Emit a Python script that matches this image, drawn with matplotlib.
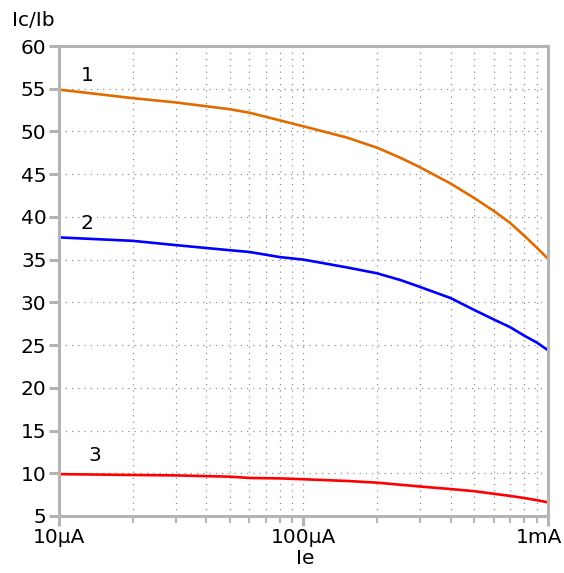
import numpy as np
import matplotlib
matplotlib.use("Agg")
import matplotlib.pyplot as plt
import matplotlib.transforms as mtransforms
from matplotlib.ticker import FixedLocator, NullFormatter

# ── data ──
ie_ua = [10, 20, 30, 50, 60, 80, 100, 150, 200, 250, 300, 400, 500, 600, 700, 800, 900, 1000]
beta_1 = [54.9, 53.9, 53.4, 52.6, 52.2, 51.3, 50.6, 49.3, 48.1, 46.9, 45.8, 43.9, 42.2, 40.7, 39.3, 37.8, 36.4, 35.1]
beta_2 = [37.6, 37.2, 36.7, 36.1, 35.9, 35.3, 35.0, 34.1, 33.4, 32.6, 31.8, 30.5, 29.1, 28.0, 27.1, 26.1, 25.3, 24.4]
beta_3 = [9.9, 9.8, 9.75, 9.6, 9.45, 9.4, 9.3, 9.1, 8.9, 8.65, 8.45, 8.15, 7.9, 7.6, 7.35, 7.1, 6.85, 6.6]

curve_labels = ["1", "2", "3"]
x_ticks = [10, 100, 1000]
x_tick_labels = ["10µA", "100µA", "1mA"]
y_ticks = list(range(5, 61, 5))

GRAY = "#b4b4b4"
GRID = "#909090"
colors = ["#e06c00", "#0000ff", "#ff0000"]
FS = 14.5

fig = plt.figure(figsize=(5.64, 5.73), dpi=100)
ax = fig.add_axes([0.1046, 0.0995, 0.867, 0.8202])

x = np.array(ie_ua) * 1e-6
for ys, c in zip([beta_1, beta_2, beta_3], colors):
    ax.plot(x, ys, color=c, linewidth=1.9, solid_joinstyle="round")

ax.set_xscale("log")
ax.set_xlim(10e-6, 1e-3)
ax.set_ylim(5, 60)

ax.xaxis.set_major_locator(FixedLocator([v * 1e-6 for v in x_ticks]))
ax.set_xticklabels(x_tick_labels)
minor = [m * d * 1e-6 for d in (10, 100) for m in range(2, 10)]
ax.xaxis.set_minor_locator(FixedLocator(minor))
ax.xaxis.set_minor_formatter(NullFormatter())
ax.set_yticks(y_ticks)

ax.grid(True, which="both", axis="x", color=GRID, linestyle=(0, (1, 4)), linewidth=0.9)
ax.grid(True, which="major", axis="y", color=GRID, linestyle=(0, (1, 4)), linewidth=0.9)

for s in ax.spines.values():
    s.set_color(GRAY)
    s.set_linewidth(2.2)

ax.tick_params(axis="both", which="major", direction="out", length=7, width=2.2,
               color=GRAY, labelsize=FS, pad=2)
ax.tick_params(axis="x", which="minor", direction="out", length=5, width=1.5, color=GRAY)

# keep "1mA" inside the figure
last = ax.get_xticklabels()[-1]
last.set_transform(last.get_transform() +
                   mtransforms.ScaledTranslation(-9 / 100, 0, fig.dpi_scale_trans))

# curve numbers
ax.text(13e-6, 56.5, curve_labels[0], fontsize=FS, ha="center", va="center")
ax.text(13e-6, 39.2, curve_labels[1], fontsize=FS, ha="center", va="center")
ax.text(14e-6, 12.1, curve_labels[2], fontsize=FS, ha="center", va="center")

fig.text(12 / 564, 1 - 20 / 573, "Ic/Ib", fontsize=FS, ha="left", va="center")
fig.text(305 / 564, 1 - 558 / 573, "Ie", fontsize=FS, ha="center", va="center")

fig.savefig("out.png", dpi=100)
